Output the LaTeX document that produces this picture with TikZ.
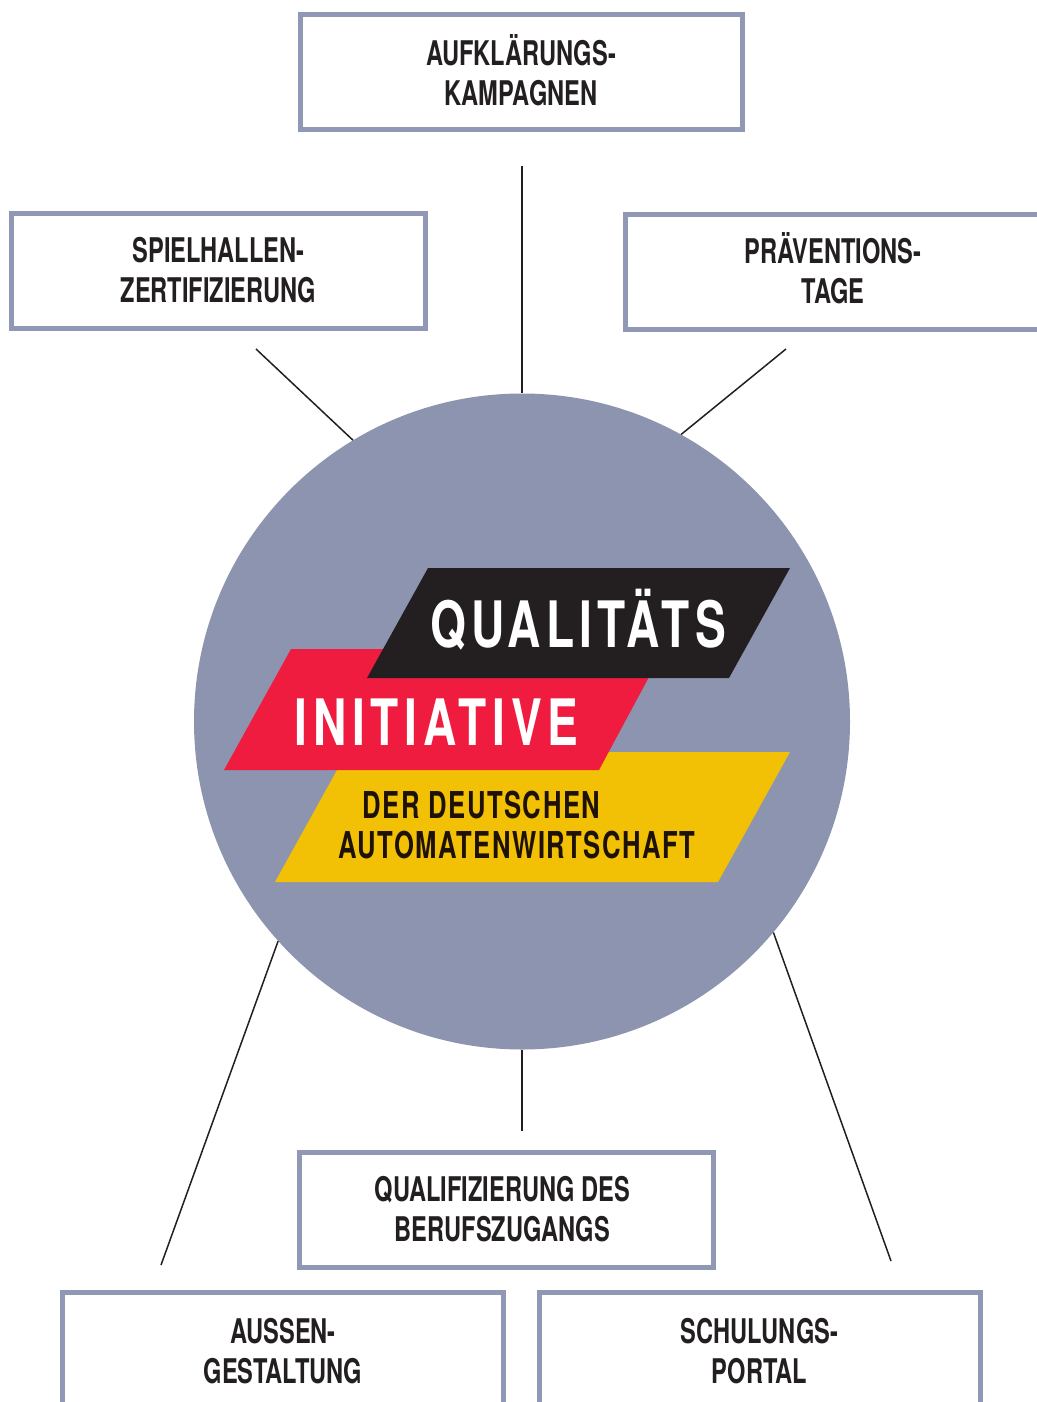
\documentclass[tikz,border=0pt]{standalone}
\usepackage{fontspec}
\newfontfamily\boxfont[FakeStretch=0.695,Ligatures=NoCommon]{TeX Gyre Heros Bold}
\newfontfamily\logofont[FakeStretch=0.72,LetterSpace=8,Ligatures=NoCommon]{TeX Gyre Heros Bold}
\newfontfamily\logofontb[FakeStretch=0.72,LetterSpace=9,Ligatures=NoCommon]{TeX Gyre Heros Bold}
\newfontfamily\subfont[FakeStretch=0.693,LetterSpace=4,Ligatures=NoCommon]{TeX Gyre Heros Bold}
\definecolor{slate}{HTML}{8C94AF}
\definecolor{frameblue}{HTML}{9098B5}
\definecolor{ink}{HTML}{231F20}
\definecolor{subink}{HTML}{1E1208}
\definecolor{flagred}{HTML}{EF1C40}
\definecolor{flagyellow}{HTML}{F2C105}
\tikzset{
  topicbox/.style={draw=frameblue,line width=5pt,fill=white,inner sep=0pt,align=center,
    minimum height=115pt,text=ink,font=\boxfont\fontsize{34}{40}\selectfont},
  link/.style={draw=ink,line width=1.5pt},
  bigword/.style={text=white,inner sep=0pt,anchor=base,font=\logofont\fontsize{64}{64}\selectfont},
  subword/.style={text=subink,inner sep=0pt,anchor=base,font=\subfont\fontsize{37}{40}\selectfont},
}
\begin{document}
\begin{tikzpicture}[x=1pt,y=-1pt]
\useasboundingbox (0,0) rectangle (1036,1402);
\node[circle,fill=slate,inner sep=0pt,minimum size=656pt] (hub) at (522,721.5) {};

\node[topicbox,minimum width=442pt] (auf) at (521,72) {\raisebox{0pt}[27.5pt]{AUFKLÄRUNGS-}\\KAMPAGNEN};
\node[topicbox,minimum width=414pt] (spiel) at (218.5,270.5) {SPIELHALLEN-\\ZERTIFIZIERUNG};
\node[topicbox,minimum width=422.5pt] (prae) at (836.7,271.5) {\hspace*{-7.5pt}\raisebox{0pt}[24.5pt]{PRÄVENTIONS-}\\\hspace*{-7.5pt}TAGE};
\node[topicbox,minimum width=414pt] (qual) at (506.5,1209.5) {\hspace*{-8pt}QUALIFIZIERUNG DES\\\hspace*{-8pt}BERUFSZUGANGS};
\node[topicbox,minimum width=441pt] (aussen) at (283,1350) {\raisebox{0pt}[26.5pt]{AUSSEN-}\\GESTALTUNG};
\node[topicbox,minimum width=441pt] (schul) at (759.5,1350) {\raisebox{0pt}[26.5pt]{SCHULUNGS-}\\PORTAL};

\coordinate (endauf) at (522,166);
\coordinate (endspiel) at (256,349);
\coordinate (endprae) at (786,349);
\coordinate (endqual) at (522,1131);
\coordinate (endaussen) at (161,1265);
\coordinate (endschul) at (891,1261);
\draw[link] (endauf) -- (hub.90);
\draw[link] (endspiel) -- (hub.121);
\draw[link] (endprae) -- (hub.61);
\draw[link] (endqual) -- (hub.270);
\draw[link] (endaussen) -- (hub.222);
\draw[link] (endschul) -- (hub.-40);

\fill[flagyellow] (347,752) -- (790,752) -- (718,882) -- (275,882) -- cycle;
\fill[flagred] (291,649) -- (664,649) -- (599,770) -- (224,770) -- cycle;
\fill[ink] (428,568) -- (790,568) -- (729,678) -- (367,678) -- cycle;

\node[bigword] (wordq) at (578,647) {QUALITÄTS};
\node[bigword,font=\logofontb\fontsize{64}{64}\selectfont] (wordi) at (436.5,745) {INITIATIVE};
\node[subword] (wordd) at (481.5,818) {DER DEUTSCHEN};
\node[subword] (worda) at (517,858) {AUTOMATENWIRTSCHAFT};
\end{tikzpicture}
\end{document}
